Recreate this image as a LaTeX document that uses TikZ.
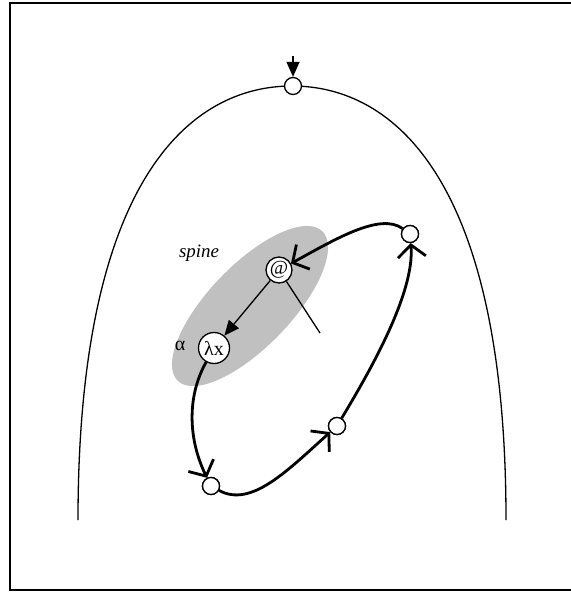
\documentclass[tikz,border=0pt]{standalone}
\usepackage{fontspec}
\setmainfont{Liberation Serif}
\usetikzlibrary{arrows.meta}
\definecolor{spinegray}{RGB}{192,192,192}
\tikzset{
  %% small white state circle
  pt/.style={circle,draw,line width=1.3bp,fill=white,minimum size=17bp,inner sep=0pt},
  %% labelled term circle
  term/.style={circle,draw,line width=1.3bp,fill=white,inner sep=0pt,font=\fontsize{20}{20}\selectfont},
  %% arrows
  loop/.style={line width=2.8bp,-{Straight Barb[length=12bp,width=28bp,line width=2.8bp]}},
  thin/.style={line width=1.3bp},
  tri/.style={line width=1.3bp,-{Triangle[length=15bp,width=13bp]}},
}
\begin{document}
\begin{tikzpicture}[x=1bp,y=-1bp]
  \useasboundingbox (0,0) rectangle (571,592);

  %% frame
  \draw[line width=2bp] (571,3) -- (10,3) -- (10,590) -- (571,590);

  %% outer arch
  \draw[thin] (78,520) .. controls (78,180) and (190,86) .. (292,86)
                       .. controls (394,86) and (506,180) .. (506,520);

  %% spine region
  \fill[spinegray,rotate around={46:(250,306)}] (250,306) ellipse (104 and 41);
  \node[font=\fontsize{19}{19}\selectfont\itshape] (spn) at (199,253) {spine};

  %% nodes
  \node[pt] (top) at (293,86) {};
  \coordinate (in) at (293,56);
  \node[term,minimum size=26bp] (app) at (279,270) {@};
  \node[term,minimum size=31bp] (lam) at (214,348) {λx};
  \node[font=\fontsize{20}{20}\selectfont] (alf) at (180,346) {α};
  \coordinate (arg) at (320,333);
  \node[pt] (bot) at (211,486) {};
  \node[pt] (mid) at (337,426) {};
  \node[pt] (rgt) at (410,234) {};

  %% entry arrow
  \draw[tri] (in) -- (top);

  %% spine edges
  \draw[tri] (app) -- (lam);
  \draw[thin] (app) -- (arg);

  %% loop
  \draw[loop] (lam) .. controls +(-28,50) and +(-22,-45) .. (bot);
  \draw[loop] (bot) .. controls +(40,22) and +(-50,45) .. (mid);
  \draw[loop] (mid) .. controls +(30,-50) and +(5,60) .. (rgt);
  \draw[loop] (rgt) .. controls +(-30,-22) and +(55,-30) .. (app);

  %% redraw circles above the loop
  \node[pt] (bot2) at (bot) {};
  \node[pt] (mid2) at (mid) {};
  \node[pt] (rgt2) at (rgt) {};
\end{tikzpicture}
\end{document}
